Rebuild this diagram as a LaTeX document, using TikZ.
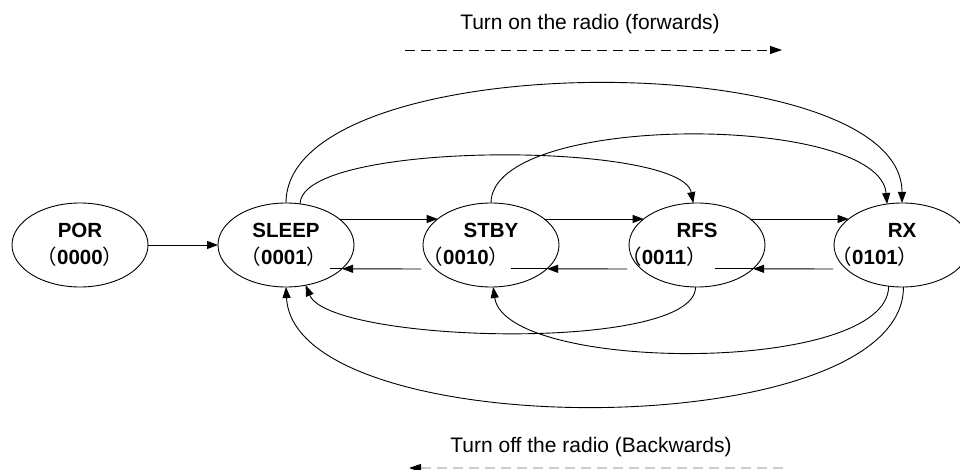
\documentclass[tikz,border=0pt]{standalone}
\usepackage{fontspec}
\setmainfont{Liberation Sans}
\newfontfamily\cjk{Noto Sans CJK SC}
\usetikzlibrary{arrows.meta,shapes.geometric,calc}
\newcommand\codetext[1]{{\cjk\mdseries （}#1{\cjk\mdseries ）}}
\begin{document}
\begin{tikzpicture}[x=1pt,y=1pt,
  state/.style={ellipse,draw,line width=0.9pt,minimum width=136pt,minimum height=84pt,inner sep=0pt,outer sep=0pt},
  lbl/.style={font=\fontsize{20.5}{24}\selectfont\bfseries,anchor=base,inner sep=0pt},
  code/.style={font=\fontsize{20.5}{24}\selectfont\bfseries,anchor=base,inner sep=0pt},
  conn/.style={line width=0.9pt,-{Triangle[length=11pt,width=8pt]}},
  plainline/.style={line width=0.9pt},
  note/.style={font=\fontsize{21}{25}\selectfont,anchor=base,inner sep=0pt}]
\useasboundingbox (0,0) rectangle (960,-470);
% states
\node[state] (por)   at (80,-245) {};
\node[state] (sleep) at (286,-245) {};
\node[state] (stby)  at (491,-245) {};
\node[state] (rfs)   at (697,-245) {};
\node[state] (rx)    at (902,-245) {};
% labels
\node[lbl] (porname)   at (80,-237)  {POR};
\node[lbl] (sleepname) at (286,-237) {SLEEP};
\node[lbl] (stbyname)  at (491,-237) {STBY};
\node[lbl] (rfsname)   at (697,-237) {RFS};
\node[lbl] (rxname)    at (902,-237) {RX};
\node[code] (porcode)   at (80,-265)  {\codetext{0000}};
\node[code] (sleepcode) at (284,-265) {\codetext{0001}};
\node[code] (stbycode)  at (466,-265) {\codetext{0010}};
\node[code] (rfscode)   at (664,-265) {\codetext{0011}};
\node[code] (rxcode)    at (875,-265) {\codetext{0101}};
% forward straight arrows
\draw[conn] (por.east) -- (sleep.west);
\draw[conn] (sleep.26) -- (stby.154);
\draw[conn] (stby.26) -- (rfs.154);
\draw[conn] (rfs.26) -- (rx.154);
% backward straight arrows
\coordinate (b1) at ($(stby.center)+(-70,-24)$);
\coordinate (b2) at ($(rfs.center)+(-70,-24)$);
\coordinate (b3) at ($(rx.center)+(-69,-24)$);
\draw[conn] (b1) -- (sleep.-23.3);
\draw[plainline] (sleep.-23.3) -- ++(-12,0);
\draw[conn] (b2) -- (stby.-23.3);
\draw[plainline] (stby.-23.3) -- ++(-36,0);
\draw[conn] (b3) -- (rfs.-23.3);
\draw[plainline] (rfs.-23.3) -- ++(-38,0);
% top arcs
\draw[conn] (sleep.north) .. controls +(0,159) and +(0,159) .. (rx.north);
\draw[conn] (sleep.71.2) .. controls +(0,64) and +(-12,62) .. (rfs.95.4);
\draw[conn] (stby.north) .. controls +(0,91) and +(-8,91) .. (rx.110.1);
% bottom arcs
\draw[conn] (rx.-88) .. controls +(0,-159) and +(8,-159) .. (sleep.south);
\draw[conn] (rfs.-92) .. controls +(0,-66) and +(24,-58) .. (sleep.-64.8);
\draw[conn] (rx.-108.8) .. controls +(0,-89) and +(12,-86) .. (stby.-87);
% direction notes
\node[note] (fwdtext) at (590,-30) {Turn on the radio (forwards)};
\node[note] (bwdtext) at (591,-452) {Turn off the radio (Backwards)};
\coordinate (fw1) at (405,-50);
\coordinate (fw2) at (782,-50);
\draw[line width=0.9pt,dash pattern=on 10pt off 6pt,-{Triangle[length=12pt,width=8pt]}] (fw1) -- (fw2);
\coordinate (bw1) at (409,-468);
\coordinate (bw2) at (783,-468);
\draw[line width=1.3pt,color=black!20,dash pattern=on 10pt off 6pt,{Triangle[length=12pt,width=8pt,color=black]}-] (bw1) -- (bw2);
\end{tikzpicture}
\end{document}
